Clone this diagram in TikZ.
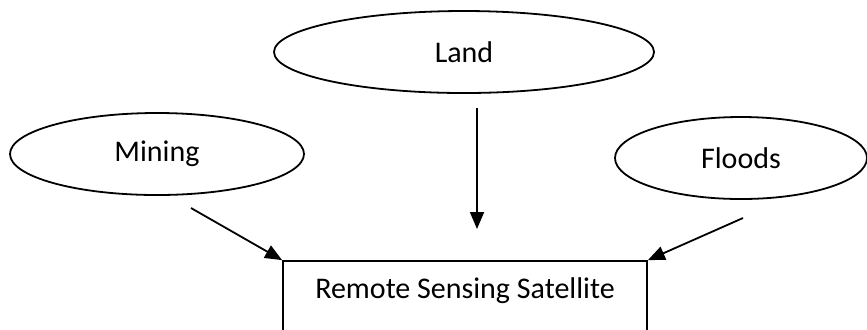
\documentclass[tikz,border=0pt]{standalone}
\usepackage{fontspec}
\setmainfont{Carlito}
\usetikzlibrary{shapes.geometric,arrows.meta}
\tikzstyle{source}=[ellipse,draw,line width=0.9pt,minimum height=41pt,inner sep=0pt,font=\fontsize{15}{17}\selectfont]
\tikzstyle{target}=[rectangle,draw,line width=0.9pt,minimum width=182pt,minimum height=39pt,text depth=12pt,inner sep=0pt,font=\fontsize{15}{17}\selectfont]
\tikzstyle{feed}=[line width=0.9pt,-{Triangle[length=8.5pt,width=7pt]}]

\begin{document}
\begin{tikzpicture}[x=0.5pt,y=-0.5pt]
    \useasboundingbox (0,0) rectangle (867,329);
    \node[source,minimum width=190pt] (land) at (464,52) {Land};
    \node[source,minimum width=147pt] (mining) at (157,154) {Mining};
    \node[source,minimum width=126pt] (floods) at (741,158) {Floods};
    \node[target] (rss) at (465,300) {Remote Sensing Satellite};

    \coordinate (l1) at (477,108);
    \coordinate (l2) at (477,229);
    \coordinate (m1) at (191,208);
    \coordinate (f1) at (743,218);

    \foreach \from/\to in {l1/l2,m1/rss.north west,f1/rss.north east}
    \draw[feed] (\from) -- (\to);
\end{tikzpicture}
\end{document}
